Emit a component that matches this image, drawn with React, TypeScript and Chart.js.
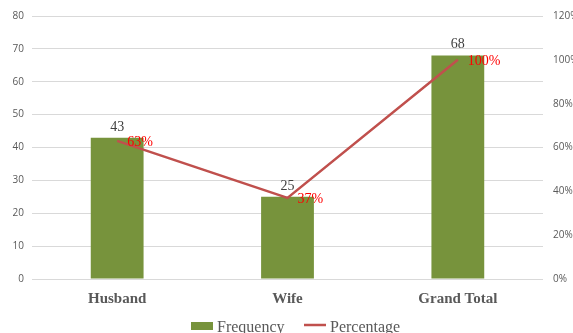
import React, { useEffect, useRef } from "react";
import { Chart, registerables } from "chart.js";

Chart.register(...registerables);

const categories = ["Husband", "Wife", "Grand Total"];
const frequency = [43, 25, 68];
const percentage = [0.63, 0.37, 1.0];
const percentageLabels = ["63%", "37%", "100%"];
const leftTicksMax = 80;
const rightTicksMax = 1.2;
const seriesNames = ["Frequency", "Percentage"];
const barColor = "#77933C";
const lineColor = "#C0504D";

const labelPlugin = {
  id: "valueLabels",
  afterDatasetsDraw(chart: any) {
    const ctx = chart.ctx;
    ctx.save();
    const barMeta = chart.getDatasetMeta(0);
    ctx.font = "14px 'Liberation Serif'";
    ctx.fillStyle = "#404040";
    ctx.textAlign = "center";
    ctx.textBaseline = "alphabetic";
    barMeta.data.forEach((el: any, i: number) => {
      ctx.fillText(String(frequency[i]), el.x, el.y - 7);
    });
    const lineMeta = chart.getDatasetMeta(1);
    ctx.fillStyle = "#FF0000";
    ctx.textAlign = "left";
    ctx.textBaseline = "middle";
    lineMeta.data.forEach((el: any, i: number) => {
      ctx.fillText(percentageLabels[i], el.x + 10, el.y + 1);
    });
    ctx.restore();
  },
};

const legendPlugin = {
  id: "customLegend",
  afterDraw(chart: any) {
    const ctx = chart.ctx;
    ctx.save();
    const cy = 326;
    ctx.fillStyle = barColor;
    ctx.fillRect(191, cy - 4, 22, 8);
    ctx.font = "16px 'Liberation Serif'";
    ctx.fillStyle = "#595959";
    ctx.textBaseline = "alphabetic";
    ctx.textAlign = "left";
    ctx.fillText(seriesNames[0], 217, 332);
    ctx.strokeStyle = lineColor;
    ctx.lineWidth = 2.5;
    ctx.beginPath();
    ctx.moveTo(304, cy - 1);
    ctx.lineTo(326, cy - 1);
    ctx.stroke();
    ctx.fillText(seriesNames[1], 330, 332);
    ctx.restore();
  },
};

export default function App() {
  const ref = useRef<HTMLCanvasElement>(null);
  useEffect(() => {
    document.body.style.margin = "0";
    const chart = new Chart(ref.current!, {
      type: "bar",
      data: {
        labels: categories,
        datasets: [
          {
            type: "bar",
            label: seriesNames[0],
            data: frequency,
            backgroundColor: barColor,
            yAxisID: "y",
            categoryPercentage: 1,
            barPercentage: 0.31,
            order: 2,
          },
          {
            type: "line",
            label: seriesNames[1],
            data: percentage,
            borderColor: lineColor,
            backgroundColor: lineColor,
            borderWidth: 2.5,
            pointRadius: 0,
            yAxisID: "y1",
            order: 1,
          } as any,
        ],
      },
      options: {
        animation: false,
        responsive: false,
        layout: { padding: { top: 16, left: 0, right: 0, bottom: 0 } },
        plugins: {
          legend: { display: false },
          tooltip: { enabled: false },
        },
        scales: {
          x: {
            grid: { display: false },
            border: { display: false },
            ticks: {
              font: { family: "'Liberation Serif'", size: 15, weight: "bold" },
              color: "#595959",
              padding: 3,
            },
            afterFit: (s: any) => {
              s.height = 54;
            },
          },
          y: {
            position: "left",
            min: 0,
            max: leftTicksMax,
            ticks: {
              stepSize: 10,
              font: { family: "'Open Sans'", size: 10 },
              color: "#595959",
              padding: 8,
            },
            grid: { color: "#D9D9D9", drawTicks: false },
            border: { display: false },
            afterFit: (s: any) => {
              s.width = 32;
            },
          },
          y1: {
            position: "right",
            min: 0,
            max: rightTicksMax,
            ticks: {
              stepSize: 0.2,
              font: { family: "'Open Sans'", size: 10 },
              color: "#595959",
              padding: 10,
              callback: (v: any) => Math.round(Number(v) * 100) + "%",
            },
            grid: { display: false, drawTicks: false },
            border: { display: false },
            afterFit: (s: any) => {
              s.width = 30;
            },
          },
        },
      },
      plugins: [labelPlugin, legendPlugin],
    });
    return () => chart.destroy();
  }, []);
  return <canvas ref={ref} width={573} height={333} style={{ display: "block" }} />;
}
